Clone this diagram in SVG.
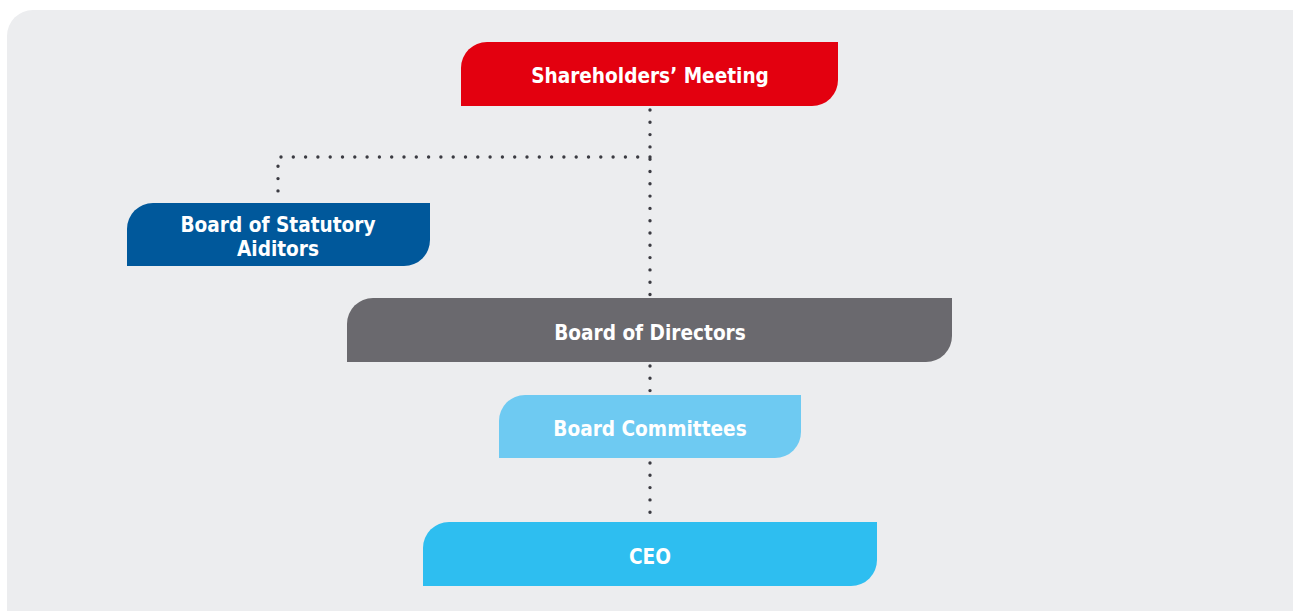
<svg xmlns="http://www.w3.org/2000/svg" width="1293" height="611" viewBox="0 0 1293 611">
<style>
.lbl{font-family:"DejaVu Sans Condensed","DejaVu Sans",sans-serif;font-weight:bold;font-size:20.6px;fill:#ffffff;text-anchor:middle}
.dot{fill:none;stroke:#3b3b42;stroke-width:3.4;stroke-linecap:round;stroke-dasharray:0 12.3}
</style>
<rect x="0" y="0" width="1293" height="611" fill="#ffffff"/>
<path d="M7 36 A26 26 0 0 1 33 10 H1293 V611 H7 Z" fill="#ECEDEF"/>
<g id="connectors">
<path class="dot" d="M650 110 V296"/>
<path class="dot" d="M650 157 H278 V200"/>
<path class="dot" d="M650 366 V393"/>
<path class="dot" d="M650 463 V520"/>
</g>
<g id="shareholders">
<path d="M461 68 A26 26 0 0 1 487 42 H838 V80 A26 26 0 0 1 812 106 H461 Z" fill="#E3000F"/>
<text class="lbl" x="650" y="83">Shareholders’ Meeting</text>
</g>
<g id="statutory">
<path d="M127 229 A26 26 0 0 1 153 203 H430 V240 A26 26 0 0 1 404 266 H127 Z" fill="#00589B"/>
<text class="lbl" x="278" y="232">Board of Statutory</text>
<text class="lbl" x="278" y="256">Aiditors</text>
</g>
<g id="directors">
<path d="M347 324 A26 26 0 0 1 373 298 H952 V336 A26 26 0 0 1 926 362 H347 Z" fill="#6A696E"/>
<text class="lbl" x="650" y="340">Board of Directors</text>
</g>
<g id="committees">
<path d="M499 421 A26 26 0 0 1 525 395 H801 V432 A26 26 0 0 1 775 458 H499 Z" fill="#6ECAF2"/>
<text class="lbl" x="650" y="436">Board Committees</text>
</g>
<g id="ceo">
<path d="M423 548 A26 26 0 0 1 449 522 H877 V560 A26 26 0 0 1 851 586 H423 Z" fill="#2EBEF0"/>
<text class="lbl" x="650" y="564">CEO</text>
</g>
</svg>
